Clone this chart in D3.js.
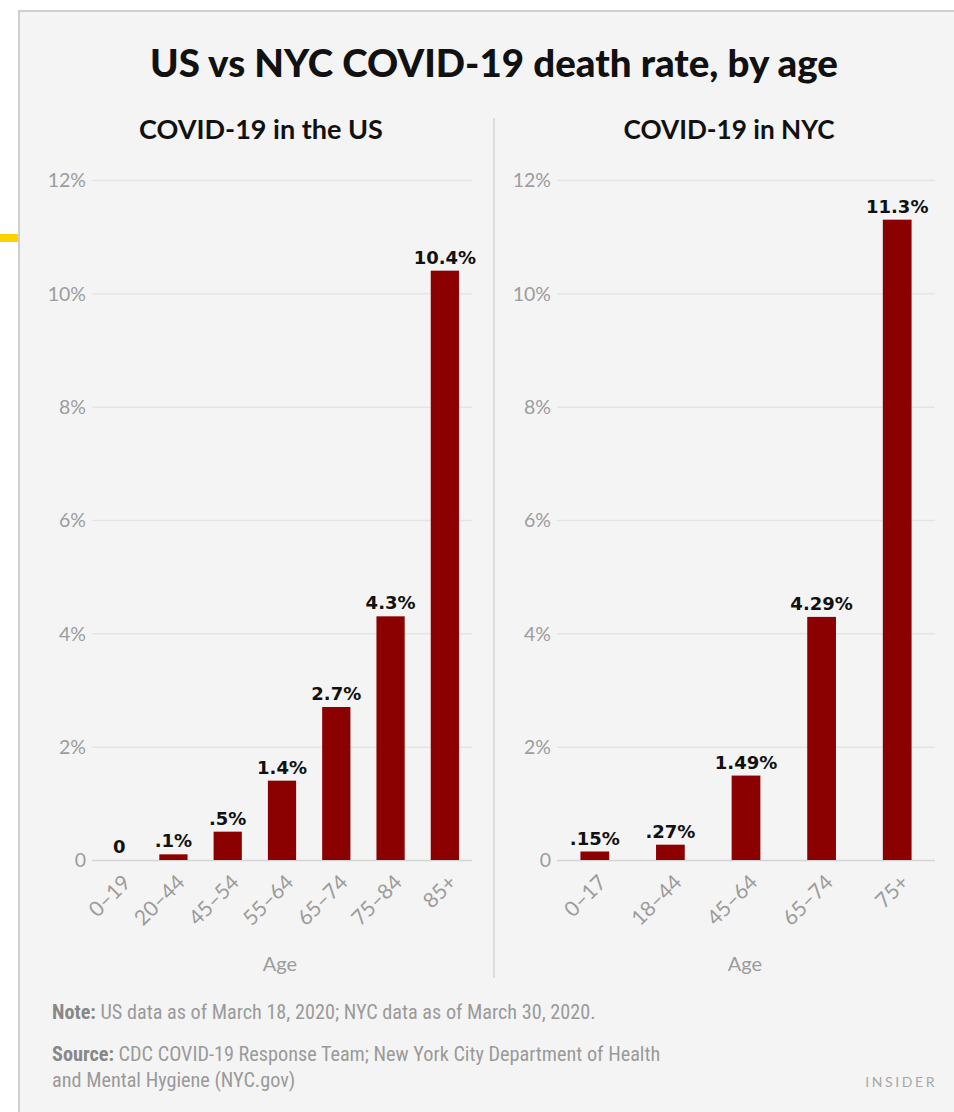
<!DOCTYPE html>
<html>
<head>
<meta charset="utf-8">
<script src="https://cdn.jsdelivr.net/npm/d3@7"></script>
<style>
  html, body { margin: 0; padding: 0; background: #fff; }
  svg { display: block; }
</style>
</head>
<body>
<svg id="chart" width="954" height="1112"></svg>
<script>
// Death rate (%) by age group
const usAges = ["0–19", "20–44", "45–54", "55–64", "65–74", "75–84", "85+"];
const usRates = [0, 0.1, 0.5, 1.4, 2.7, 4.3, 10.4];
const usLabels = ["0", ".1%", ".5%", "1.4%", "2.7%", "4.3%", "10.4%"];

const nycAges = ["0–17", "18–44", "45–64", "65–74", "75+"];
const nycRates = [0.15, 0.27, 1.49, 4.29, 11.3];
const nycLabels = [".15%", ".27%", "1.49%", "4.29%", "11.3%"];

const yTicks = [0, 2, 4, 6, 8, 10, 12];
const yTickLabels = ["0", "2%", "4%", "6%", "8%", "10%", "12%"];

const titleText = "US vs NYC COVID-19 death rate, by age";
const panelTitles = ["COVID-19 in the US", "COVID-19 in NYC"];
const axisTitle = "Age";
const noteLabel = "Note:";
const noteText = " US data as of March 18, 2020; NYC data as of March 30, 2020.";
const sourceLabel = "Source:";
const sourceLine1 = " CDC COVID-19 Response Team; New York City Department of Health";
const sourceLine2 = "and Mental Hygiene (NYC.gov)";
const brand = "INSIDER";

const svg = d3.select("#chart");
const BAR = "#8b0000";
const GRID = "#e4e4e4";
const TICK = "#9c9c9c";
const SANS = "Lato, 'Open Sans', sans-serif";
const WIDE = "'DejaVu Sans', Verdana, sans-serif";
const NARROW = "'Liberation Sans Narrow', 'Roboto Condensed', Roboto, sans-serif";

// card background
svg.append("rect").attr("x", 0).attr("y", 0).attr("width", 954).attr("height", 1112).attr("fill", "#fff");
svg.append("rect")
  .attr("x", 19).attr("y", 11).attr("width", 960).attr("height", 1120)
  .attr("fill", "#f4f4f4").attr("stroke", "#cfcfcf").attr("stroke-width", 2);
svg.append("rect").attr("x", 0).attr("y", 234).attr("width", 18).attr("height", 8).attr("fill", "#ffd200");

// fit a text element's font size so it spans a given width
function fitWidth(sel, target) {
  const fs = parseFloat(sel.attr("font-size"));
  const w = sel.node().getComputedTextLength();
  if (w > 0 && fs > 0) sel.attr("font-size", (fs * target / w).toFixed(2));
  return sel;
}

const title = svg.append("text")
  .attr("x", 494).attr("y", 77).attr("text-anchor", "middle")
  .attr("font-family", SANS).attr("font-weight", 900).attr("font-size", 32)
  .attr("fill", "#111").text(titleText);
fitWidth(title, 688);

// divider between panels
svg.append("line").attr("x1", 494).attr("x2", 494).attr("y1", 118).attr("y2", 978)
  .attr("stroke", "#dcdcdc").attr("stroke-width", 2);

const y = d3.scaleLinear().domain([0, 12]).range([860, 180]);

const panels = [
  { ages: usAges, rates: usRates, labels: usLabels, x0: 92, x1: 472, pad: 0.48, cx: 261, ax: 280, tw: 244 },
  { ages: nycAges, rates: nycRates, labels: nycLabels, x0: 557, x1: 935, pad: 0.62, cx: 729, ax: 745, tw: 211 }
];

panels.forEach((p, i) => {
  const g = svg.append("g");
  const x = d3.scaleBand().domain(p.ages).range([p.x0, p.x1]).paddingInner(p.pad).paddingOuter(p.pad / 2);

  const pt = g.append("text")
    .attr("x", p.cx).attr("y", 139).attr("text-anchor", "middle")
    .attr("font-family", SANS).attr("font-weight", 700).attr("font-size", 24)
    .attr("fill", "#111").text(panelTitles[i]);
  fitWidth(pt, p.tw);

  // gridlines + y labels
  const yAxis = d3.axisLeft(y).tickValues(yTicks)
    .tickFormat((d, k) => yTickLabels[k])
    .tickSize(-(p.x1 - p.x0)).tickPadding(6);
  const ya = g.append("g").attr("transform", `translate(${p.x0},0)`).call(yAxis);
  ya.select(".domain").remove();
  ya.selectAll(".tick line").attr("stroke", GRID).attr("stroke-width", 1.5);
  ya.selectAll(".tick text")
    .attr("font-family", SANS).attr("font-weight", 400).attr("font-size", 19.5)
    .attr("fill", TICK).attr("dy", "0.35em");
  ya.selectAll(".tick").filter(d => d === 0).select("line").attr("stroke", "#d4d4d4");

  // bars
  g.selectAll("rect.bar").data(p.rates).join("rect")
    .attr("class", "bar")
    .attr("x", (d, k) => x(p.ages[k]))
    .attr("width", x.bandwidth())
    .attr("y", d => y(d))
    .attr("height", d => y(0) - y(d))
    .attr("fill", BAR);

  // value labels
  g.selectAll("text.val").data(p.rates).join("text")
    .attr("class", "val")
    .attr("x", (d, k) => x(p.ages[k]) + x.bandwidth() / 2)
    .attr("y", d => y(d) - 7)
    .attr("text-anchor", "middle")
    .attr("font-family", WIDE).attr("font-weight", 700).attr("font-size", 18)
    .attr("fill", "#111")
    .text((d, k) => p.labels[k]);

  // x axis labels
  const xAxis = d3.axisBottom(x).tickSize(0).tickPadding(0);
  const xa = g.append("g").attr("transform", `translate(0,${y(0)})`).call(xAxis);
  xa.select(".domain").remove();
  xa.selectAll(".tick text")
    .attr("font-family", SANS).attr("font-weight", 400).attr("font-size", 21)
    .attr("fill", TICK)
    .attr("text-anchor", "end")
    .attr("dy", null).attr("y", null)
    .attr("transform", "translate(9,20) rotate(-45)")
    .attr("dominant-baseline", "middle");

  g.append("text")
    .attr("x", p.ax).attr("y", 971).attr("text-anchor", "middle")
    .attr("font-family", SANS).attr("font-size", 20).attr("fill", TICK)
    .text(axisTitle);
});

// footnotes
const foot = svg.append("g").attr("font-family", NARROW).attr("fill", "#9a9a9a");
const n = foot.append("text").attr("x", 52).attr("y", 1019).attr("font-size", 16);
n.append("tspan").attr("fill", "#888").attr("font-weight", 700).text(noteLabel);
n.append("tspan").text(noteText);
fitWidth(n, 544);
const fs = n.attr("font-size");
const s = foot.append("text").attr("x", 52).attr("y", 1061).attr("font-size", fs);
s.append("tspan").attr("fill", "#888").attr("font-weight", 700).text(sourceLabel);
s.append("tspan").text(sourceLine1);
foot.append("text").attr("x", 52).attr("y", 1087).attr("font-size", fs).text(sourceLine2);

svg.append("text").attr("x", 937).attr("y", 1087).attr("text-anchor", "end")
  .attr("font-family", SANS).attr("font-size", 14).attr("letter-spacing", 2.6)
  .attr("fill", "#a8a8a8").text(brand);
</script>
</body>
</html>
